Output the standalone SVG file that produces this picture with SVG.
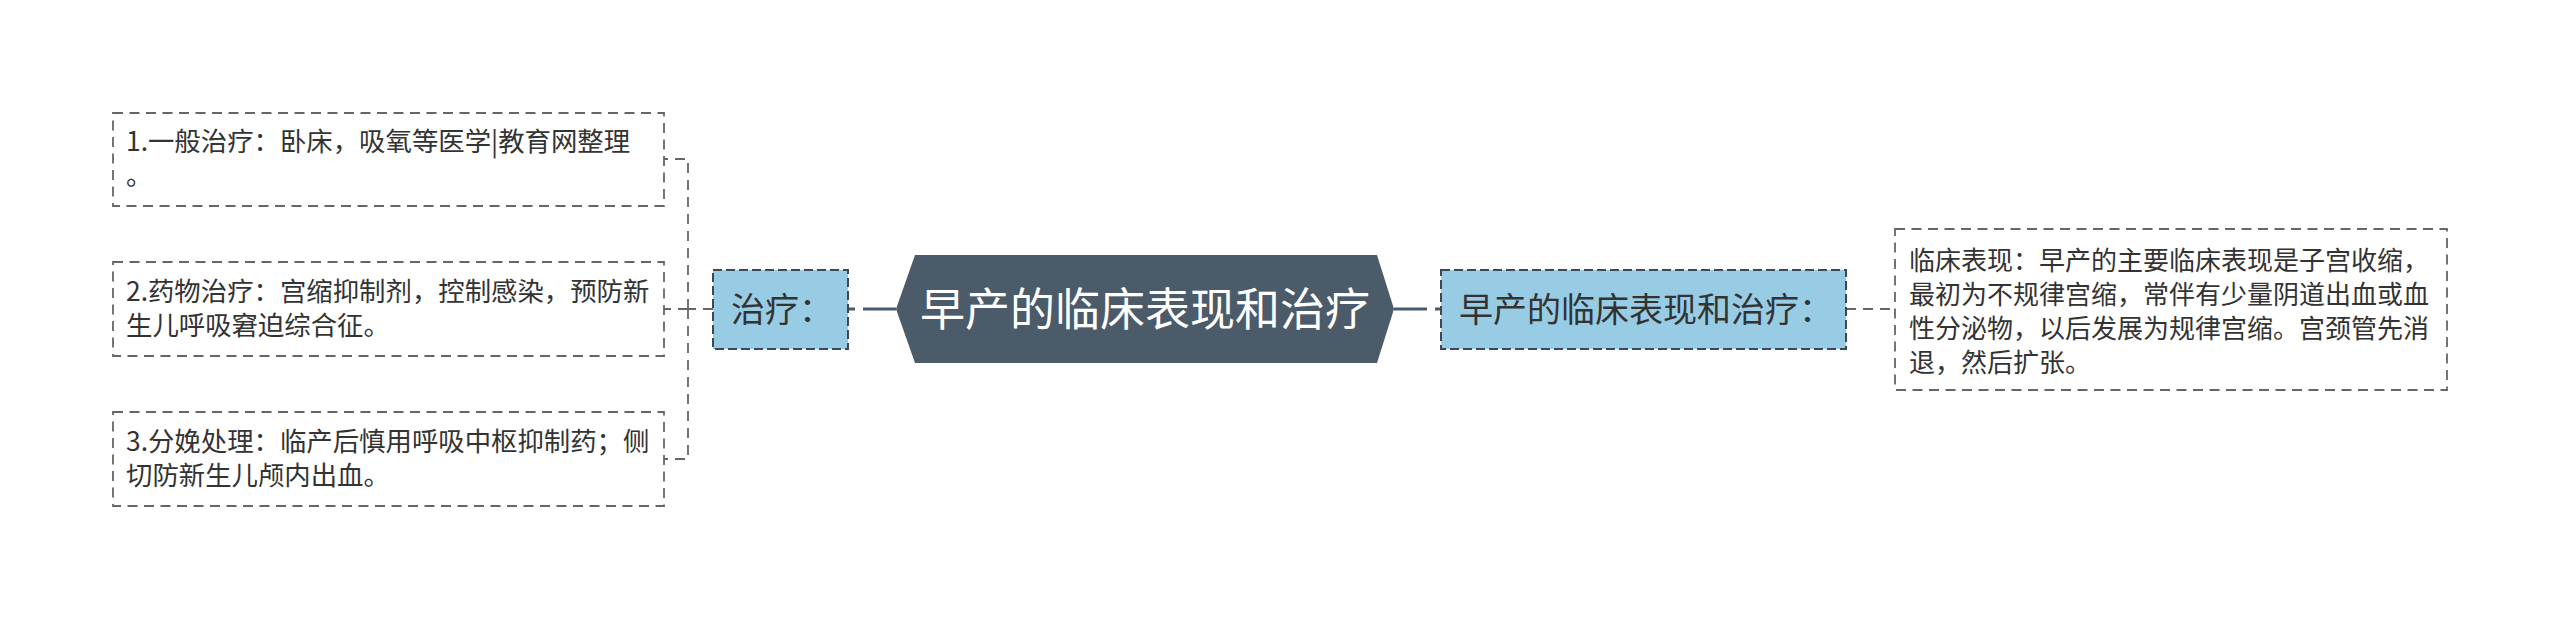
<svg xmlns="http://www.w3.org/2000/svg" width="2560" height="619" viewBox="0 0 2560 619">
<style>
.bg{fill:#ffffff}
.leaf{fill:#ffffff;stroke:#666666;stroke-width:1.8;stroke-dasharray:10 6.5}
.sub{fill:#98cce4;stroke:#3b4956;stroke-width:2;stroke-dasharray:9 4}
.root{fill:#4b5b6a}
.t{font-family:"Noto Sans CJK SC","Noto Sans",sans-serif;fill:#333333}
.tl{font-size:26.4px}
.tk{font-size:26px}
.ts{font-size:34px;text-anchor:middle}
.tr{font-size:45px;text-anchor:middle;fill:#ffffff}
.thin{fill:none;stroke:#666666;stroke-width:1.8;stroke-dasharray:10 7}
.thick{fill:none;stroke:#4b5b6a;stroke-width:3;stroke-dasharray:33 8 6}
</style>
<rect class="bg" x="0" y="0" width="2560" height="619"/>
<g id="connectors">
<path class="thick" d="M896,309 H849"/>
<path class="thick" d="M1394,309 H1441"/>
<path class="thin" d="M713,309 H688"/>
<path class="thin" d="M688,309 V159 H664"/>
<path class="thin" d="M688,309 H664"/>
<path class="thin" d="M688,309 V459 H664"/>
<path class="thin" d="M1846,309 H1895"/>
</g>
<g id="root">
<polygon class="root" points="896,309 915,255 1377,255 1394,309 1377,363 915,363"/>
<text class="t tr" x="1145" y="326">早产的临床表现和治疗</text>
</g>
<g id="treatment">
<rect class="sub" x="713" y="270" width="135" height="79"/>
<text class="t ts" x="782" y="322">治疗：</text>
</g>
<g id="clinical">
<rect class="sub" x="1441" y="270" width="405" height="79"/>
<text class="t ts" x="1646" y="322">早产的临床表现和治疗：</text>
</g>
<g id="leaf1">
<rect class="leaf" x="113" y="113" width="551" height="93"/>
<text class="t tl" x="126" y="151">1.一般治疗：卧床，吸氧等医学|教育网整理</text>
<text class="t tl" x="126" y="185">。</text>
</g>
<g id="leaf2">
<rect class="leaf" x="113" y="262" width="551" height="94"/>
<text class="t tl" x="126" y="301">2.药物治疗：宫缩抑制剂，控制感染，预防新</text>
<text class="t tl" x="126" y="335">生儿呼吸窘迫综合征。</text>
</g>
<g id="leaf3">
<rect class="leaf" x="113" y="412" width="551" height="94"/>
<text class="t tl" x="126" y="451">3.分娩处理：临产后慎用呼吸中枢抑制药；侧</text>
<text class="t tl" x="126" y="485">切防新生儿颅内出血。</text>
</g>
<g id="leaf4">
<rect class="leaf" x="1895" y="229" width="552" height="161"/>
<text class="t tk" x="1909" y="270">临床表现：早产的主要临床表现是子宫收缩，</text>
<text class="t tk" x="1909" y="304">最初为不规律宫缩，常伴有少量阴道出血或血</text>
<text class="t tk" x="1909" y="338">性分泌物，以后发展为规律宫缩。宫颈管先消</text>
<text class="t tk" x="1909" y="372">退，然后扩张。</text>
</g>
</svg>
